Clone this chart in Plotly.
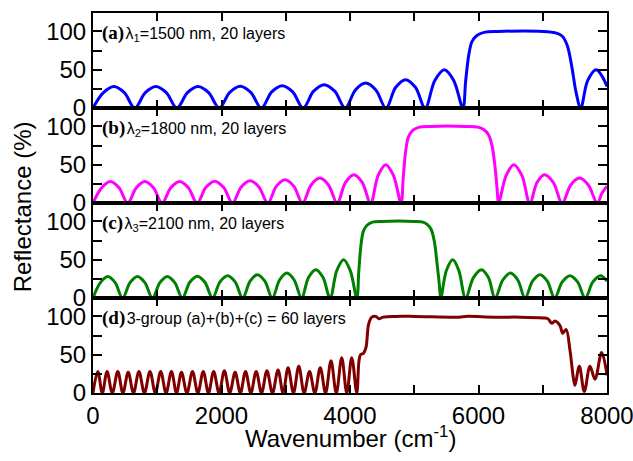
import plotly.graph_objects as go
from plotly.subplots import make_subplots

# ---------------- data ----------------
# (a) lambda1 = 1500 nm, 20 layers
a_x = [0, 162, 325, 488, 650, 814, 978, 1141, 1305, 1470, 1635, 1800, 1965, 2128, 2292, 2456,
       2620, 2782, 2945, 3108, 3270, 3434, 3598, 3762, 3925, 4084, 4243, 4402, 4560, 4712, 4865,
       5018, 5170, 5320, 5470, 5614, 5757, 5800, 5850, 5900, 5980, 6100, 6300, 7000, 7200, 7300,
       7380, 7450, 7520, 7590, 7700, 7830, 7920, 8000]
a_y = [0, 20, 28, 20, 0, 20, 28, 20, 0, 20, 28, 20, 0, 20.5, 28.5, 20.5,
       0, 21, 29, 21, 0, 22, 30.5, 22, 0, 23.5, 32.5, 23.5, 0, 27, 37,
       27, 0, 36, 50, 36, 0, 35, 70, 87, 95, 99, 100, 100, 98, 94,
       82, 55, 20, 0, 36, 50, 42, 28]

# (b) lambda2 = 1800 nm, 20 layers
b_x = [0, 135, 270, 405, 540, 674, 808, 941, 1075, 1211, 1348, 1484, 1620, 1757, 1895, 2032,
       2170, 2307, 2445, 2582, 2720, 2855, 2990, 3125, 3260, 3395, 3530, 3665, 3800, 3930, 4060,
       4190, 4320, 4438, 4557, 4676, 4794, 4830, 4870, 4913, 4980, 5080, 5250, 5800, 5990, 6080,
       6150, 6210, 6260, 6290, 6312, 6431, 6550, 6675, 6799, 6912, 7026, 7164, 7302, 7436, 7571,
       7709, 7847, 7923, 8000]
b_y = [0, 20, 28, 20, 0, 20, 28, 20, 0, 20, 28, 20, 0, 20.5, 28.5, 20.5,
       0, 21, 29, 21, 0, 22, 30.5, 22, 0, 23.5, 32.5, 23.5, 0, 27, 37,
       27, 0, 36, 50, 36, 0, 35, 70, 87, 95, 99, 100, 100, 99, 96,
       90, 75, 45, 18, 0, 36, 50, 36, 0, 27, 37, 27, 0, 23.5, 32.5,
       23.5, 0, 13, 22]

# (c) lambda3 = 2100 nm, 20 layers
c_x = [0, 115, 230, 345, 460, 576, 692, 808, 925, 1041, 1157, 1273, 1390, 1507, 1625, 1742,
       1860, 1977, 2095, 2212, 2330, 2445, 2560, 2675, 2790, 2904, 3018, 3131, 3245, 3356, 3468,
       3579, 3690, 3795, 3900, 4003, 4106, 4137, 4172, 4208, 4265, 4350, 4500, 5000, 5135, 5200,
       5260, 5310, 5355, 5390, 5413, 5500, 5600, 5693, 5799, 5923, 6048, 6153, 6259, 6378, 6497,
       6611, 6725, 6841, 6958, 7071, 7185, 7304, 7423, 7542, 7661, 7780, 7899, 8000]
c_y = [0, 20, 28, 20, 0, 20, 28, 20, 0, 20, 28, 20, 0, 20.5, 28.5, 20.5,
       0, 21, 29, 21, 0, 22, 30.5, 22, 0, 23.5, 32.5, 23.5, 0, 27, 37,
       27, 0, 36, 50, 36, 0, 35, 70, 87, 95, 99, 100, 100, 99, 96,
       90, 75, 45, 18, 0, 36, 50, 36, 0, 27, 37, 27, 0, 23.5, 32.5,
       23.5, 0, 22, 30.5, 22, 0, 21, 29, 21, 0, 21, 29, 22]

# (d) 3-group (a)+(b)+(c) = 60 layers
d_x = [0, 75, 145, 219, 300, 386, 465, 548, 630, 715, 800, 887, 970, 1054, 1137, 1221, 1300,
       1377, 1462, 1549, 1632, 1716, 1797, 1878, 1962, 2045, 2128, 2212, 2293, 2374, 2457, 2540,
       2623, 2707, 2793, 2880, 2958, 3036, 3120, 3203, 3286, 3370, 3453, 3537, 3620, 3704, 3787,
       3871, 3950, 4027, 4105, 4140, 4165, 4210, 4250, 4290, 4340, 4400, 4450, 4520, 4700, 5000,
       5700, 5800, 6250, 6650, 7000, 7080, 7140, 7191, 7268, 7311, 7363, 7425, 7476, 7502, 7569,
       7647, 7735, 7813, 7917, 8000]
d_y = [0, 28, 0, 28, 0, 28, 0, 27, 0, 28, 0, 28, 0, 28, 0, 28, 0,
       27, 0, 28, 0, 28, 0, 28, 0, 29, 0, 27, 0, 28, 0, 28,
       0, 29, 0, 30, 0, 33, 0, 35, 0, 28, 0, 33, 0, 42, 0,
       46, 0, 46, 0, 42, 50, 52, 60, 90, 99, 100, 97, 99, 100, 100,
       99, 100, 99, 99, 98, 97, 91, 94, 88, 78, 83, 55, 20, 10, 35,
       2, 35, 18, 53, 23]

series = [
    (a_x, a_y, "#0000FF", "(a)", "λ<sub>1</sub>=1500 nm, 20 layers"),
    (b_x, b_y, "#FF00FF", "(b)", "λ<sub>2</sub>=1800 nm, 20 layers"),
    (c_x, c_y, "#008000", "(c)", "λ<sub>3</sub>=2100 nm, 20 layers"),
    (d_x, d_y, "#800000", "(d)", "3-group (a)+(b)+(c) = 60 layers"),
]

x_ticks = [0, 1000, 2000, 3000, 4000, 5000, 6000, 7000, 8000]
x_ticktext = ["0", "", "2000", "", "4000", "", "6000", "", "8000"]
y_ticks = [0, 25, 50, 75, 100]
y_ticktext = ["0", "", "50", "", "100"]

fig = make_subplots(rows=4, cols=1, shared_xaxes=False, vertical_spacing=0)

FONT = "Arial"

for i, (xs, ys, col, tag, label) in enumerate(series, start=1):
    fig.add_trace(go.Scatter(x=xs, y=ys, mode="lines",
                             line=dict(color=col, width=3, shape="spline", smoothing=1.0),
                             showlegend=False, hoverinfo="skip"), row=i, col=1)
    fig.update_xaxes(range=[0, 8000], tickvals=x_ticks, ticktext=x_ticktext,
                     showticklabels=(i == 4), ticks="inside", ticklen=8, tickwidth=2,
                     tickcolor="black", showline=True, linecolor="black", linewidth=2,
                     mirror="ticks", showgrid=False, zeroline=False, automargin=False,
                     ticklabeloverflow="allow",
                     tickfont=dict(family=FONT, size=24, color="black"), row=i, col=1)
    fig.update_yaxes(range=[0, 124], tickvals=y_ticks, ticktext=y_ticktext,
                     ticks="inside", ticklen=9, tickwidth=2, tickcolor="black",
                     showline=True, linecolor="black", linewidth=2, mirror="ticks",
                     showgrid=False, zeroline=False, automargin=False,
                     ticklabeloverflow="allow",
                     tickfont=dict(family=FONT, size=24, color="black"), row=i, col=1)
    xr = "x" if i == 1 else f"x{i}"
    yr = "y" if i == 1 else f"y{i}"
    fig.add_annotation(
        x=110, y=98, xref=xr, yref=yr, xanchor="left", yanchor="middle", showarrow=False,
        text=(f"<span style=\"font-family:'Times New Roman',serif;font-weight:bold;font-size:19px\">{tag}</span>"
              f"<span style=\"font-size:5px\"> </span>{label}"),
        font=dict(family=FONT, size=16, color="black"))

fig.add_annotation(x=-0.138, y=0.489, xref="paper", yref="paper", text="Reflectance (%)",
                   textangle=-90, showarrow=False, xanchor="center", yanchor="middle",
                   font=dict(family=FONT, size=24, color="black"))
fig.add_annotation(x=0.5, y=-0.117, xref="paper", yref="paper",
                   text="Wavenumber (cm<sup>-1</sup>)", showarrow=False,
                   xanchor="center", yanchor="middle",
                   font=dict(family=FONT, size=24, color="black"))

fig.update_layout(width=633, height=461, margin=dict(l=93, r=26, t=13, b=68),
                  plot_bgcolor="white", paper_bgcolor="white")

fig.write_html("out.html", config={"displayModeBar": False},
               post_script="document.body.style.margin='0';document.body.style.overflow='hidden';")
